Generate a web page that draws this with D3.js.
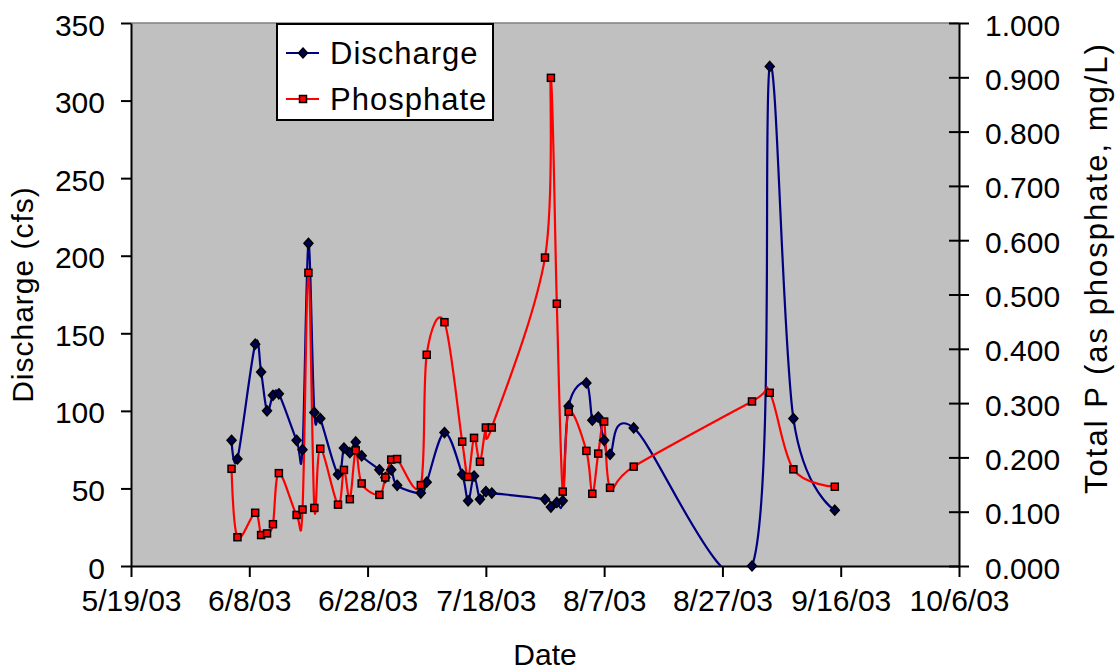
<!DOCTYPE html>
<html>
<head>
<meta charset="utf-8">
<script src="https://cdn.jsdelivr.net/npm/d3@7"></script>
<style>
  body { margin: 0; background: #fff; }
  text { font-family: "Liberation Sans", Arial, sans-serif; fill: #000; }
</style>
</head>
<body>
<svg width="1118" height="671"></svg>
<script>
// sample dates (2003) and measured values
const dates = ["6/5/03", "6/6/03", "6/9/03", "6/10/03", "6/11/03", "6/12/03", "6/13/03",
  "6/16/03", "6/17/03", "6/18/03", "6/19/03", "6/20/03", "6/23/03", "6/24/03", "6/25/03",
  "6/26/03", "6/27/03", "6/30/03", "7/1/03", "7/2/03", "7/3/03", "7/7/03", "7/8/03",
  "7/11/03", "7/14/03", "7/15/03", "7/16/03", "7/17/03", "7/18/03", "7/19/03", "7/28/03",
  "7/29/03", "7/30/03", "7/31/03", "8/1/03", "8/4/03", "8/5/03", "8/6/03", "8/7/03",
  "8/8/03", "8/12/03", "9/1/03", "9/4/03", "9/8/03", "9/15/03"];

const discharge = [81, 69, 143, 125, 100, 110, 111,
  81, 75, 208, 99, 95, 59, 76, 73,
  80, 71, 62, 57, 62, 52, 47, 54,
  86, 59, 42, 58, 43, 48, 47, 43,
  38, 41, 42, 103, 118, 94, 96, 81,
  72, 89, 0, 322, 95, 36];

const phosphate = [0.179, 0.053, 0.098, 0.057, 0.060, 0.077, 0.171,
  0.094, 0.104, 0.540, 0.107, 0.216, 0.113, 0.177, 0.123,
  0.213, 0.152, 0.131, 0.163, 0.196, 0.197, 0.149, 0.389,
  0.449, 0.229, 0.164, 0.236, 0.192, 0.255, 0.255, 0.568,
  0.899, 0.483, 0.137, 0.284, 0.212, 0.133, 0.207, 0.266,
  0.144, 0.183, 0.303, 0.319, 0.178, 0.146];

const xTickLabels = ["5/19/03", "6/8/03", "6/28/03", "7/18/03", "8/7/03", "8/27/03", "9/16/03", "10/6/03"];
const leftTicks = [0, 50, 100, 150, 200, 250, 300, 350];
const rightTicks = [0, 0.1, 0.2, 0.3, 0.4, 0.5, 0.6, 0.7, 0.8, 0.9, 1.0];

const parse = d3.timeParse("%m/%d/%y");
const fmt = d3.timeFormat("%-m/%-d/%y");

const plotLeft = 131, plotRight = 959, plotTop = 23, plotBottom = 566;

const svg = d3.select("svg");

const x = d3.scaleTime()
  .domain([parse(xTickLabels[0]), parse(xTickLabels[xTickLabels.length - 1])])
  .range([plotLeft, plotRight]);
const yL = d3.scaleLinear().domain([0, 350]).range([plotBottom, plotTop]);
const yR = d3.scaleLinear().domain([0, 1]).range([plotBottom, plotTop]);

const dData = dates.map((d, i) => ({ date: parse(d), v: discharge[i] }));
const pData = dates.map((d, i) => ({ date: parse(d), v: phosphate[i] }));

// plot area
svg.append("rect")
  .attr("x", plotLeft).attr("y", plotTop)
  .attr("width", plotRight - plotLeft).attr("height", plotBottom - plotTop)
  .attr("fill", "#c0c0c0");
svg.append("line")
  .attr("x1", plotLeft).attr("x2", plotRight).attr("y1", plotTop).attr("y2", plotTop)
  .attr("stroke", "#808080").attr("stroke-width", 1.5);

svg.append("clipPath").attr("id", "plotclip")
  .append("rect")
  .attr("x", plotLeft).attr("y", plotTop)
  .attr("width", plotRight - plotLeft).attr("height", plotBottom - plotTop);

// axes
const xAxis = svg.append("g")
  .attr("transform", "translate(0," + plotBottom + ")")
  .call(d3.axisBottom(x)
    .tickValues(xTickLabels.map(parse))
    .tickFormat(fmt)
    .tickSizeInner(11).tickSizeOuter(0)
    .tickPadding(23));

const leftAxis = svg.append("g")
  .attr("transform", "translate(" + plotLeft + ",0)")
  .call(d3.axisLeft(yL)
    .tickValues(leftTicks)
    .tickSizeInner(10).tickSizeOuter(0)
    .tickPadding(16));

const rightAxis = svg.append("g")
  .attr("transform", "translate(" + plotRight + ",0)")
  .call(d3.axisRight(yR)
    .tickValues(rightTicks)
    .tickFormat(d3.format(".3f"))
    .tickSizeInner(10).tickSizeOuter(0)
    .tickPadding(16));

// cross ticks on the right axis
rightAxis.selectAll(".tick line").attr("x1", -10);

[xAxis, leftAxis, rightAxis].forEach(g => {
  g.selectAll("path.domain").attr("stroke", "#000").attr("stroke-width", 2);
  g.selectAll(".tick line").attr("stroke", "#000").attr("stroke-width", 2);
  g.selectAll(".tick text")
    .attr("font-size", 30)
    .attr("font-family", "'Liberation Sans', Arial, sans-serif")
    .attr("fill", "#000");
});
leftAxis.selectAll(".tick text").attr("dy", "0.4em");
rightAxis.selectAll(".tick text").attr("dy", "0.4em");
xAxis.selectAll(".tick text").attr("dy", "0.35em");

// lines
const lineD = d3.line()
  .x(d => x(d.date))
  .y(d => yL(d.v))
  .curve(d3.curveCardinal.tension(0));
const lineP = d3.line()
  .x(d => x(d.date))
  .y(d => yR(d.v))
  .curve(d3.curveCardinal.tension(0));

const plot = svg.append("g").attr("clip-path", "url(#plotclip)");

plot.append("path")
  .datum(dData)
  .attr("d", lineD)
  .attr("fill", "none")
  .attr("stroke", "#000080")
  .attr("stroke-width", 2.2);

plot.append("path")
  .datum(pData)
  .attr("d", lineP)
  .attr("fill", "none")
  .attr("stroke", "#ff0000")
  .attr("stroke-width", 2.2);

// markers
const diamond = "M0,-5L4.5,0L0,5L-4.5,0Z";
svg.append("g").selectAll("path")
  .data(dData)
  .enter().append("path")
  .attr("d", diamond)
  .attr("transform", d => "translate(" + x(d.date) + "," + yL(d.v) + ")")
  .attr("fill", "#000050")
  .attr("stroke", "#000")
  .attr("stroke-width", 1.5);

svg.append("g").selectAll("rect")
  .data(pData)
  .enter().append("rect")
  .attr("x", d => x(d.date) - 3.5)
  .attr("y", d => yR(d.v) - 3.5)
  .attr("width", 7).attr("height", 7)
  .attr("fill", "#ff0000")
  .attr("stroke", "#000")
  .attr("stroke-width", 1.5);

// axis titles
svg.append("text")
  .attr("x", (plotLeft + plotRight) / 2).attr("y", 665)
  .attr("text-anchor", "middle")
  .attr("font-size", 30)
  .text("Date");

svg.append("text")
  .attr("transform", "translate(33," + (plotTop + plotBottom) / 2 + ") rotate(-90)")
  .attr("text-anchor", "middle")
  .attr("font-size", 30)
  .attr("letter-spacing", 1)
  .text("Discharge (cfs)");

svg.append("text")
  .attr("transform", "translate(1107,268) rotate(-90)")
  .attr("text-anchor", "middle")
  .attr("font-size", 31)
  .attr("letter-spacing", 2)
  .text("Total P (as phosphate, mg/L)");

// legend
const legend = svg.append("g");
legend.append("rect")
  .attr("x", 277).attr("y", 24)
  .attr("width", 216).attr("height", 96)
  .attr("fill", "#fff")
  .attr("stroke", "#000")
  .attr("stroke-width", 2);

const legendItems = [
  { label: "Discharge", color: "#000080", y: 53, marker: "diamond" },
  { label: "Phosphate", color: "#ff0000", y: 99, marker: "square" }
];
legendItems.forEach(it => {
  legend.append("line")
    .attr("x1", 286).attr("x2", 319)
    .attr("y1", it.y).attr("y2", it.y)
    .attr("stroke", it.color).attr("stroke-width", 2.2);
  if (it.marker === "diamond") {
    legend.append("path")
      .attr("d", diamond)
      .attr("transform", "translate(303," + it.y + ")")
      .attr("fill", "#000050").attr("stroke", "#000").attr("stroke-width", 1.5);
  } else {
    legend.append("rect")
      .attr("x", 299.5).attr("y", it.y - 3.5)
      .attr("width", 7).attr("height", 7)
      .attr("fill", "#ff0000").attr("stroke", "#000").attr("stroke-width", 1.5);
  }
  legend.append("text")
    .attr("x", 330).attr("y", it.y + 11)
    .attr("font-size", 31)
    .attr("letter-spacing", 1)
    .text(it.label);
});
</script>
</body>
</html>
